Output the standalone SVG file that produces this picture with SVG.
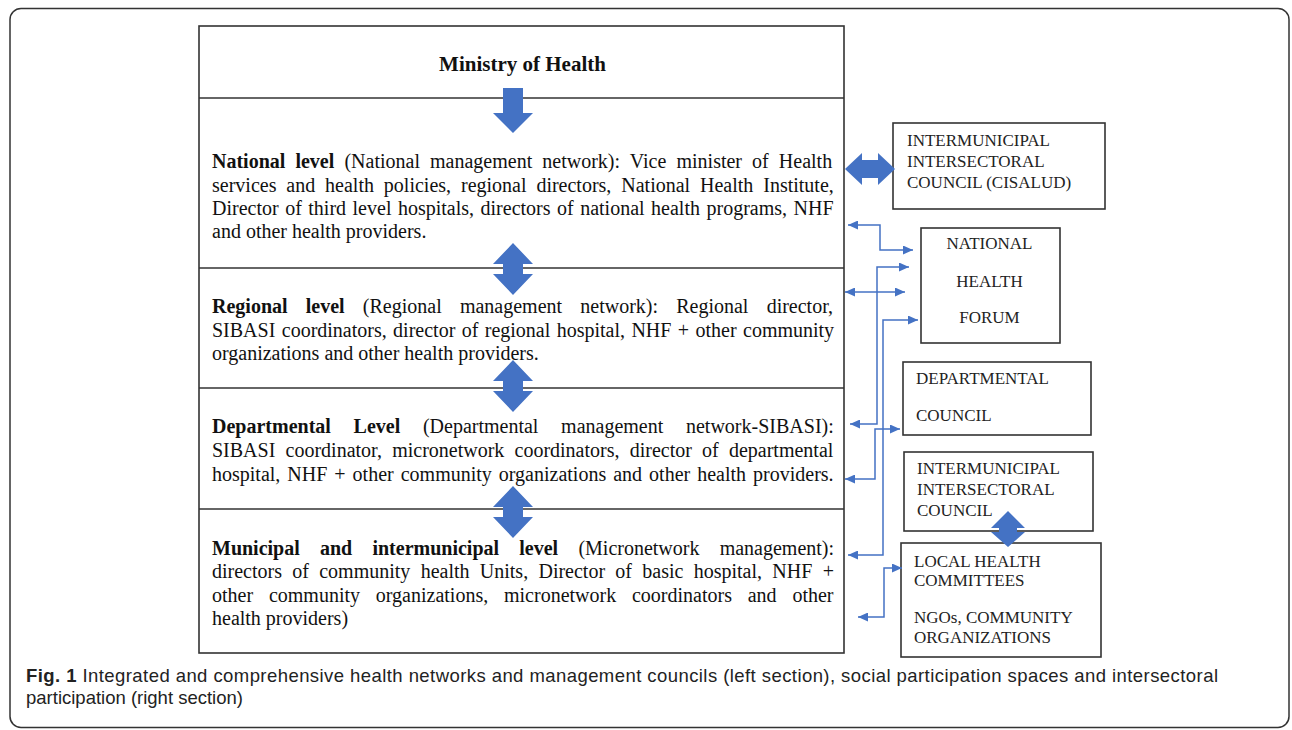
<svg xmlns="http://www.w3.org/2000/svg" width="1292" height="730" viewBox="0 0 1292 730">
<style>
.frame{fill:#fff;stroke:#333;stroke-width:1.5}
.box{fill:#fff;stroke:#333;stroke-width:1.6}
.div{stroke:#333;stroke-width:1.6}
.t{font-family:"Liberation Serif","Times New Roman",serif;font-size:20px;fill:#111}
.b{font-weight:bold}
.r{font-family:"Liberation Serif","Times New Roman",serif;font-size:17px;fill:#222}
.blk{fill:#4472C4}
.con{fill:none;stroke:#4472C4;stroke-width:1.5}
.cap{font-family:"Liberation Sans",Arial,sans-serif;font-size:18.5px;fill:#222}
</style>
<defs>
<marker id="ah" markerUnits="userSpaceOnUse" markerWidth="11" markerHeight="9" refX="10" refY="4.5" orient="auto-start-reverse">
<path d="M0,0 L10,4.5 L0,9 Z" fill="#4472C4"/>
</marker>
</defs>
<rect class="frame" x="10" y="8.5" width="1279" height="719" rx="11"/>

<g id="main">
<rect class="box" x="199" y="26" width="645" height="627"/>
<line class="div" x1="199" y1="98" x2="844" y2="98"/>
<line class="div" x1="199" y1="268" x2="844" y2="268"/>
<line class="div" x1="199" y1="388" x2="844" y2="388"/>
<line class="div" x1="199" y1="509" x2="844" y2="509"/>
</g>

<g id="ministry">
<text class="t b" x="522.5" y="71" text-anchor="middle" style="font-size:21px">Ministry of Health</text>
</g>

<g id="national">
<text class="t" x="212" y="168" word-spacing="5.1"><tspan class="b">National level</tspan> (National management network): Vice minister of Health</text>
<text class="t" x="212" y="192" word-spacing="4.9">services and health policies, regional directors, National Health Institute,</text>
<text class="t" x="212" y="215" word-spacing="1.5">Director of third level hospitals, directors of national health programs, NHF</text>
<text class="t" x="212" y="238">and other health providers.</text>
</g>

<g id="regional">
<text class="t" x="212" y="313" word-spacing="13.2"><tspan class="b">Regional level</tspan> (Regional management network): Regional director,</text>
<text class="t" x="212" y="337" word-spacing="1.4">SIBASI coordinators, director of regional hospital, NHF + other community</text>
<text class="t" x="212" y="360">organizations and other health providers.</text>
</g>

<g id="departmental">
<text class="t" x="212" y="433" word-spacing="17.7"><tspan class="b">Departmental Level</tspan> (Departmental management network-SIBASI):</text>
<text class="t" x="212" y="457" word-spacing="5.2">SIBASI coordinator, micronetwork coordinators, director of departmental</text>
<text class="t" x="212" y="481" word-spacing="2">hospital, NHF + other community organizations and other health providers.</text>
</g>

<g id="municipal">
<text class="t" x="212" y="555" word-spacing="15.2"><tspan class="b">Municipal and intermunicipal level</tspan> (Micronetwork management):</text>
<text class="t" x="212" y="578" word-spacing="5.3">directors of community health Units, Director of basic hospital, NHF +</text>
<text class="t" x="212" y="602" word-spacing="10.8">other community organizations, micronetwork coordinators and other</text>
<text class="t" x="212" y="625">health providers)</text>
</g>

<g id="cisalud">
<rect class="box" x="893" y="123" width="212" height="86"/>
<text class="r" x="907" y="146">INTERMUNICIPAL</text>
<text class="r" x="907" y="167">INTERSECTORAL</text>
<text class="r" x="907" y="188">COUNCIL (CISALUD)</text>
</g>

<g id="forum">
<rect class="box" x="921" y="228" width="139" height="115"/>
<text class="r" x="989.5" y="249" text-anchor="middle">NATIONAL</text>
<text class="r" x="989.5" y="287" text-anchor="middle">HEALTH</text>
<text class="r" x="989.5" y="323" text-anchor="middle">FORUM</text>
</g>

<g id="dept-council">
<rect class="box" x="903" y="362" width="188" height="73"/>
<text class="r" x="916" y="384">DEPARTMENTAL</text>
<text class="r" x="916" y="421">COUNCIL</text>
</g>

<g id="inter-council">
<rect class="box" x="904" y="452" width="189" height="79"/>
<text class="r" x="917" y="474">INTERMUNICIPAL</text>
<text class="r" x="917" y="495">INTERSECTORAL</text>
<text class="r" x="917" y="516">COUNCIL</text>
</g>

<g id="local">
<rect class="box" x="901" y="543" width="200" height="114"/>
<text class="r" x="914" y="567">LOCAL HEALTH</text>
<text class="r" x="914" y="586">COMMITTEES</text>
<text class="r" x="914" y="623">NGOs, COMMUNITY</text>
<text class="r" x="914" y="643">ORGANIZATIONS</text>
</g>

<g id="connectors">
<path class="blk" d="M503,88 H523 V113 H533 L513,133 L493,113 H503 Z"/>
<path class="blk" d="M513,243 L533,264 H523 V274 H533 L513,295 L493,274 H503 V264 H493 Z"/>
<path class="blk" d="M513,360 L533,381 H523 V391 H533 L513,412 L493,391 H503 V381 H493 Z"/>
<path class="blk" d="M513,486 L533,507 H523 V517 H533 L513,538 L493,517 H503 V507 H493 Z"/>
<path class="blk" d="M845,169 L862,153 V160 H878 V153 L895,169 L878,185 V178 H862 V185 Z"/>
<path class="blk" d="M1008,511 L1025,528 H1017 V532 H1025 L1008,547 L991,532 H999 V528 H991 Z"/>
<path class="con" d="M848,225 H880 V250 H913" marker-start="url(#ah)" marker-end="url(#ah)"/>
<path class="con" d="M909,267 H877 V424 H850" marker-start="url(#ah)" marker-end="url(#ah)"/>
<path class="con" d="M845,292 H905" marker-start="url(#ah)" marker-end="url(#ah)"/>
<path class="con" d="M918,320 H883 V555 H848" marker-start="url(#ah)" marker-end="url(#ah)"/>
<path class="con" d="M900,429 H875 V479 H845" marker-start="url(#ah)" marker-end="url(#ah)"/>
<path class="con" d="M902,568 H884 V617 H858" marker-start="url(#ah)" marker-end="url(#ah)"/>
</g>

<g id="caption">
<text class="cap" x="26" y="682" textLength="1192" lengthAdjust="spacing"><tspan font-weight="bold">Fig. 1</tspan> Integrated and comprehensive health networks and management councils (left section), social participation spaces and intersectoral</text>
<text class="cap" x="26" y="704">participation (right section)</text>
</g>
</svg>
